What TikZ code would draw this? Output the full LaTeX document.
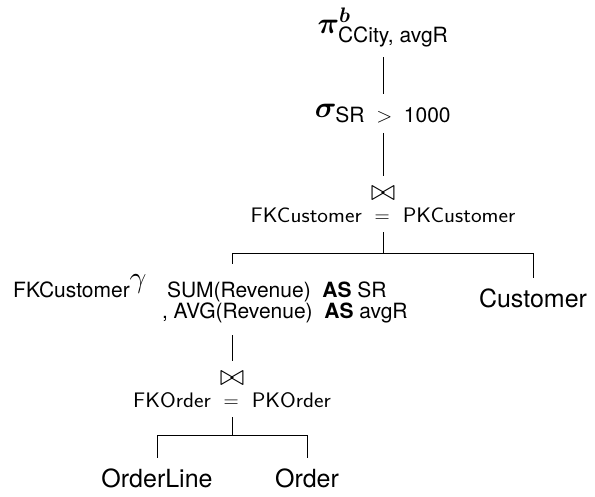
\RequirePackage{fix-cm}
\documentclass[tikz,border=0pt]{standalone}
\usepackage{amsmath,amssymb}
\usepackage[no-math]{fontspec}
\usepackage{bm}
\setmainfont{TeX Gyre Heros}
\newfontfamily\joinfont[FakeStretch=1.08]{Latin Modern Sans}
\newcommand{\joincond}[1]{\shortstack{$\bowtie$\\[4pt]\joinfont\fontsize{21}{21}\selectfont #1}}

\begin{document}
\begin{tikzpicture}[x=1pt,y=-1pt,line width=0.8pt,
  op/.style={inner sep=0pt,outer sep=10pt,anchor=base,font=\fontsize{30}{36}\selectfont},
  rel/.style={inner sep=0pt,outer sep=10pt,anchor=base,font=\fontsize{25}{25}\selectfont}]
\useasboundingbox (0,0) rectangle (595,496);

% operators, top to bottom
\node[op] (proj) at (383,33) {$\bm{\pi}^{\bm{b}}_{\text{CCity, avgR}}$};
\node[op] (sel) at (383,117) {$\bm{\sigma}_{\text{SR ${}>{}$ 1000}}$};
\node[op] (join1) at (383,222) {\joincond{FKCustomer ${}={}$ PKCustomer}};
\node[op,anchor=base west] (aggr) at (152,297) {\fontsize{21}{21}\selectfont%
  \begin{tabular}[t]{@{}l@{}}
  \hspace{5pt}SUM(Revenue)\ \ \textbf{AS} SR\\
  , AVG(Revenue)\ \ \textbf{AS}\ avgR
  \end{tabular}};
\node[inner sep=0pt,anchor=base east] (grp) at (147,297)
  {\fontsize{21}{21}\selectfont FKCustomer\raisebox{10pt}{\fontsize{30}{30}\selectfont$\gamma$}};
\node[op] (join2) at (232,407) {\joincond{FKOrder ${}={}$ PKOrder}};

% relations
\node[rel] (cust) at (533,307) {Customer};
\node[rel] (oline) at (157,487) {OrderLine};
\node[rel] (ord) at (307,487) {Order};

% forks
\coordinate (split1) at (383,253);
\coordinate (split2) at (232,435);

\draw (proj.south) -- (sel.north);
\draw (sel.south) -- (join1.north);
\draw (join1.south) -- (split1) -| (cust.north);
\draw (split1) -| ([yshift=7pt]aggr.north -| join2);
\draw (aggr.south -| join2) -- (join2.north);
\draw (join2.south) -- (split2) -| (oline.north);
\draw (split2) -| (ord.north);
\end{tikzpicture}
\end{document}
